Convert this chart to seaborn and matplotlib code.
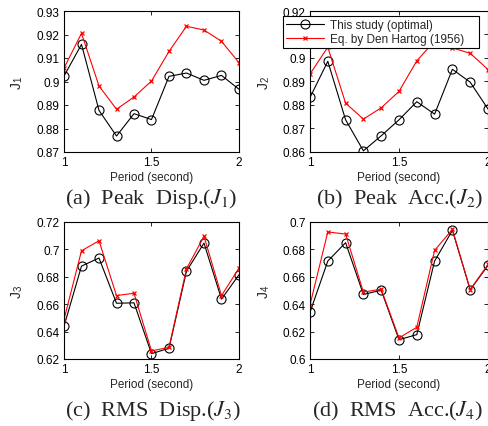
import numpy as np
import pandas as pd
import matplotlib
matplotlib.use("Agg")
import matplotlib.pyplot as plt
import seaborn as sns
from matplotlib.ticker import FuncFormatter

periods = [1.0, 1.1, 1.2, 1.3, 1.4, 1.5, 1.6, 1.7, 1.8, 1.9, 2.0]

j1_opt = [0.9023, 0.9158, 0.8877, 0.8768, 0.8863, 0.8838, 0.9022, 0.9036, 0.9005, 0.9026, 0.8967]
j1_dh = [0.9057, 0.9205, 0.8981, 0.8882, 0.8934, 0.9002, 0.9128, 0.9235, 0.9219, 0.9171, 0.9080]

j2_opt = [0.8832, 0.8986, 0.8737, 0.8605, 0.8669, 0.8737, 0.8814, 0.8761, 0.8952, 0.8897, 0.8783]
j2_dh = [0.8932, 0.9046, 0.8808, 0.8740, 0.8788, 0.8858, 0.8988, 0.9072, 0.9043, 0.9020, 0.8951]

j3_opt = [0.6439, 0.6878, 0.6937, 0.6607, 0.6610, 0.6239, 0.6278, 0.6841, 0.7046, 0.6637, 0.6815]
j3_dh = [0.6488, 0.6990, 0.7063, 0.6663, 0.6680, 0.6259, 0.6285, 0.6859, 0.7095, 0.6663, 0.6863]

j4_opt = [0.6341, 0.6715, 0.6849, 0.6471, 0.6502, 0.6141, 0.6178, 0.6715, 0.6939, 0.6505, 0.6683]
j4_dh = [0.6395, 0.6927, 0.6912, 0.6488, 0.6510, 0.6154, 0.6232, 0.6793, 0.6946, 0.6507, 0.6690]

ylims = [(0.87, 0.93), (0.86, 0.92), (0.62, 0.72), (0.60, 0.70)]
ytick_steps = [0.01, 0.01, 0.02, 0.02]
xticks = [1, 1.5, 2]
ylabels = ["J$_\\mathregular{1}$", "J$_\\mathregular{2}$", "J$_\\mathregular{3}$", "J$_\\mathregular{4}$"]
captions = ["(a)  Peak  Disp.($J_1$)", "(b)  Peak  Acc.($J_2$)",
            "(c)  RMS  Disp.($J_3$)", "(d)  RMS  Acc.($J_4$)"]
legend_labels = ["This study (optimal)", "Eq. by Den Hartog (1956)"]

sns.set_style("ticks")
plt.rcParams["font.family"] = ["Liberation Sans", "DejaVu Sans"]
plt.rcParams["mathtext.fontset"] = "stix"
plt.rcParams["xtick.direction"] = "in"
plt.rcParams["ytick.direction"] = "in"

W, H = 489, 427
fig = plt.figure(figsize=(W / 100, H / 100), dpi=100)

boxes = [(64, 12, 239, 153), (310, 12, 488, 153), (64, 223, 239, 360), (310, 223, 488, 360)]
opts = [j1_opt, j2_opt, j3_opt, j4_opt]
dhs = [j1_dh, j2_dh, j3_dh, j4_dh]
ylabel_x = [-0.223, -0.213, -0.223, -0.213]
cap_pos = [(151, 199), (400, 199), (153, 411), (398, 411)]

fmt = FuncFormatter(lambda v, p: ("%.2f" % v).rstrip("0").rstrip(".") if abs(v - round(v)) > 1e-9 else "%d" % round(v))

for i in range(4):
    l, t, r, b = boxes[i]
    ax = fig.add_axes([l / W, 1 - b / H, (r - l) / W, (b - t) / H])
    df = pd.DataFrame({"Period": periods, "opt": opts[i], "dh": dhs[i]})
    sns.lineplot(data=df, x="Period", y="opt", ax=ax, color="black", lw=0.8,
                 marker="o", markersize=6.5, markerfacecolor="none",
                 markeredgecolor="black", markeredgewidth=0.8, label=legend_labels[0])
    sns.lineplot(data=df, x="Period", y="dh", ax=ax, color="red", lw=0.8,
                 marker="x", markersize=3.5, markeredgecolor="red",
                 markeredgewidth=0.9, label=legend_labels[1])
    ax.set_xlim(1, 2)
    ax.set_ylim(*ylims[i])
    ax.set_xticks(xticks)
    lo, hi = ylims[i]
    n = int(round((hi - lo) / ytick_steps[i]))
    ax.set_yticks([lo + k * ytick_steps[i] for k in range(n + 1)])
    ax.xaxis.set_major_formatter(fmt)
    ax.yaxis.set_major_formatter(fmt)
    ax.tick_params(axis="both", which="both", labelsize=8.5, length=3, width=0.6,
                   top=True, right=True, pad=3, colors="black")
    for s in ax.spines.values():
        s.set_linewidth(0.8)
        s.set_color("black")
    ax.set_xlabel("Period (second)", fontsize=8.5, labelpad=2)
    ax.set_ylabel(ylabels[i], fontsize=10)
    ax.yaxis.set_label_coords(ylabel_x[i], 0.5)
    if i == 1:
        leg = ax.legend(loc="upper left", bbox_to_anchor=(283 / W, 1 - 48 / H, 196 / W, 31 / H),
                        bbox_transform=fig.transFigure, mode="expand", fontsize=8.5,
                        frameon=True, fancybox=False, edgecolor="black", framealpha=1,
                        handlelength=3.2, borderpad=0.25, labelspacing=0.2,
                        handletextpad=0.5, borderaxespad=0)
        leg.get_frame().set_linewidth(0.8)
    else:
        ax.get_legend().remove()
    cx, cy = cap_pos[i]
    fig.text(cx / W, 1 - cy / H, captions[i], ha="center", va="center",
             fontsize=16, family=["Liberation Serif", "DejaVu Serif"])

fig.savefig("out.png", dpi=100)
